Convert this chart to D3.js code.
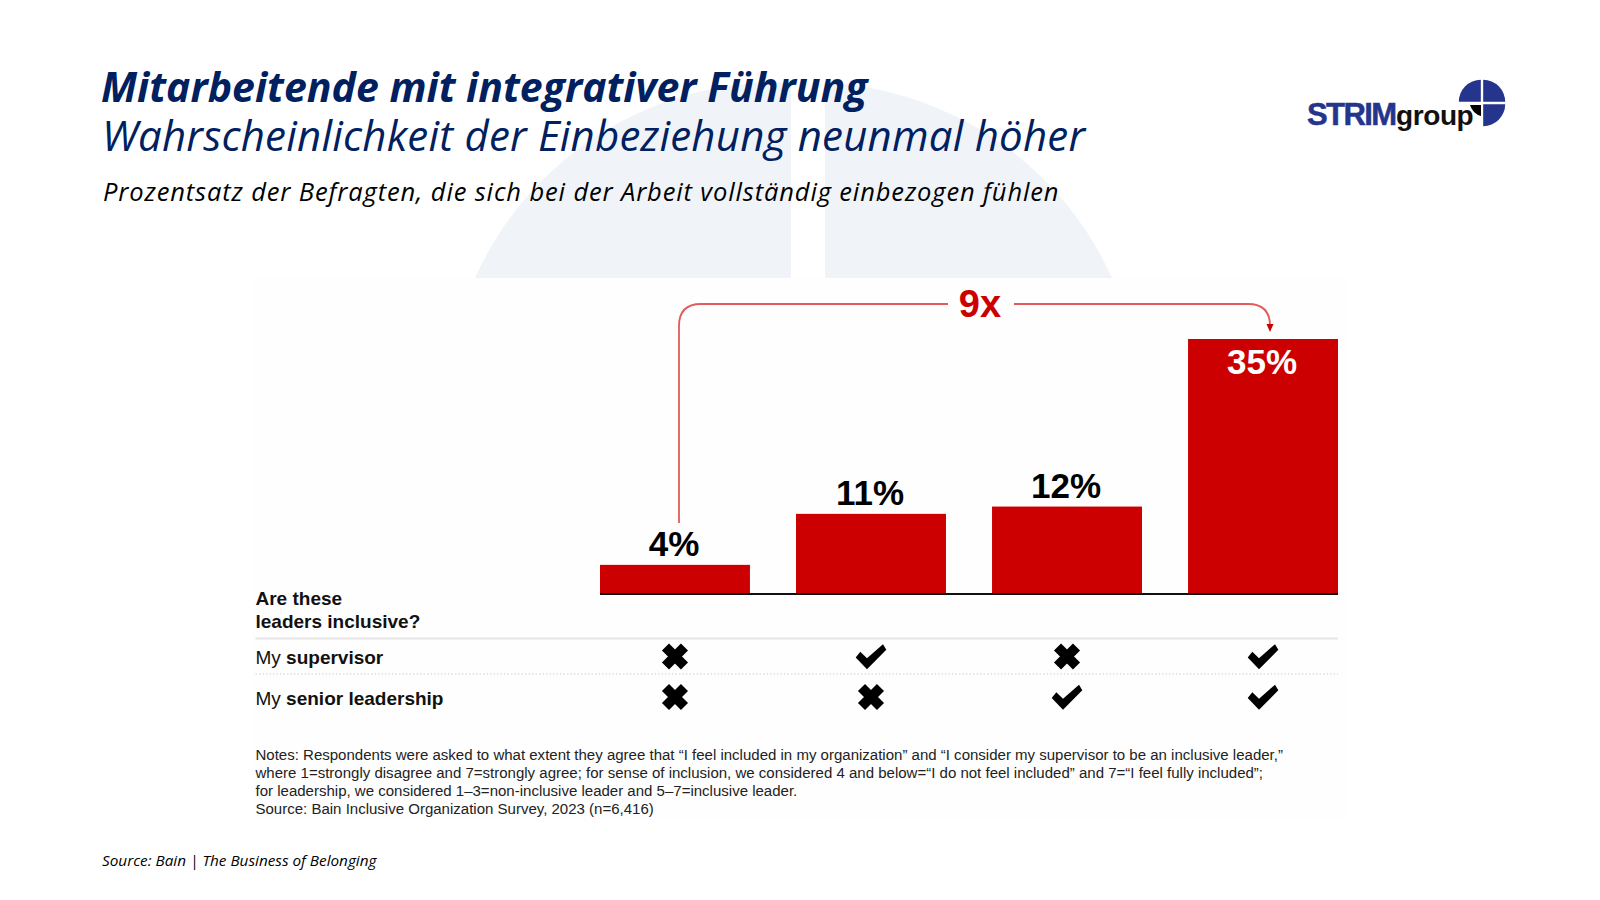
<!DOCTYPE html>
<html>
<head>
<meta charset="utf-8">
<script src="https://cdn.jsdelivr.net/npm/d3@7"></script>
<style>
	html, body { margin: 0; padding: 0; background: #fff; }
	svg { display: block; }
	.slide { font-family: "Open Sans", sans-serif; font-style: italic; }
	.chart { font-family: "Liberation Sans", Arial, sans-serif; }
</style>
</head>
<body>
<svg id="chart" width="1600" height="900"></svg>
<script>
'use strict';

//Chart data
var groups = ["neither", "supervisor", "senior", "both"];
var percentValues = [4, 11, 12, 35];
var supervisorInclusive = [false, true, false, true];
var seniorInclusive = [false, false, true, true];
var headerLines = ["Are these", "leaders inclusive?"];
var noteLines = [
	"Notes: Respondents were asked to what extent they agree that \u201CI feel included in my organization\u201D and \u201CI consider my supervisor to be an inclusive leader,\u201D",
	"where 1=strongly disagree and 7=strongly agree; for sense of inclusion, we considered 4 and below=\u201CI do not feel included\u201D and 7=\u201CI feel fully included\u201D;",
	"for leadership, we considered 1\u20133=non-inclusive leader and 5\u20137=inclusive leader.",
	"Source: Bain Inclusive Organization Survey, 2023 (n=6,416)"
];

var svg = d3.select("#chart");
var navy = "#002060";
var red = "#cc0000";
var logoBlue = "#25348c";

//Background watermark, two quarters of the logo circle cut at the top of the chart picture
var defs = svg.append("defs");
defs.append("clipPath").attr("id", "markLeft").append("rect")
	.attr("x", 0).attr("y", 0).attr("width", 791).attr("height", 278);
defs.append("clipPath").attr("id", "markRight").append("rect")
	.attr("x", 825).attr("y", 0).attr("width", 775).attr("height", 278);

svg.append("circle")
	.attr("clip-path", "url(#markLeft)")
	.attr("cx", 777).attr("cy", 413.5).attr("r", 331)
	.attr("fill", "#f0f4f9");
svg.append("circle")
	.attr("clip-path", "url(#markRight)")
	.attr("cx", 810).attr("cy", 413.5).attr("r", 331)
	.attr("fill", "#f0f4f9");

//Titles
var slide = svg.append("g").attr("class", "slide");
slide.append("text")
	.attr("x", 101).attr("y", 102)
	.attr("font-size", 41).attr("font-weight", 700).attr("fill", navy)
	.text("Mitarbeitende mit integrativer F\u00FChrung");
slide.append("text")
	.attr("x", 102).attr("y", 151)
	.attr("font-size", 42).attr("letter-spacing", 0.2).attr("fill", navy)
	.text("Wahrscheinlichkeit der Einbeziehung neunmal h\u00F6her");
slide.append("text")
	.attr("x", 103).attr("y", 201)
	.attr("font-size", 25.5).attr("letter-spacing", 0.87).attr("fill", "#000")
	.text("Prozentsatz der Befragten, die sich bei der Arbeit vollst\u00E4ndig einbezogen f\u00FChlen");
slide.append("text")
	.attr("x", 102).attr("y", 866)
	.attr("font-size", 15.3).attr("fill", "#000")
	.text("Source: Bain | The Business of Belonging");

//Logo
var logo = svg.append("g");
var logoArc = d3.arc().innerRadius(0).outerRadius(22);
[[0, Math.PI / 2, 1.2, -1.2], [Math.PI / 2, Math.PI, 1.2, 1.2], [-Math.PI / 2, 0, -1.2, -1.2]].forEach(function(q) {
	logo.append("path")
		.attr("transform", "translate(" + (1482 + q[2]) + "," + (103 + q[3]) + ")")
		.attr("d", logoArc({ startAngle: q[0], endAngle: q[1] }))
		.attr("fill", logoBlue);
});
logo.append("path")
	.attr("transform", "translate(1482,103)")
	.attr("d", "M-12,2 L-1,2 L-1,13 Q-9,11 -12,2 Z")
	.attr("fill", "#000");
logo.append("text")
	.attr("class", "chart")
	.attr("x", 1307).attr("y", 125)
	.attr("font-size", 31).attr("font-weight", 700).attr("fill", logoBlue)
	.attr("stroke", logoBlue).attr("stroke-width", 0.5)
	.attr("letter-spacing", -1.6)
	.text("STRIM");
logo.append("text")
	.attr("class", "chart")
	.attr("x", 1396).attr("y", 125)
	.attr("font-size", 28).attr("font-weight", 700).attr("fill", "#111")
	.attr("letter-spacing", -0.4)
	.text("group");

//Chart picture
var chart = svg.append("g").attr("class", "chart");
chart.append("rect")
	.attr("x", 252).attr("y", 278).attr("width", 1096).attr("height", 542)
	.attr("fill", "#fefefe");

var x = d3.scaleBand()
	.domain(groups)
	.range([600, 1338])
	.paddingInner(0.235)
	.paddingOuter(0);

var y = d3.scaleLinear()
	.domain([0, 35])
	.range([594, 339]);

chart.selectAll(".bar")
	.data(percentValues)
	.enter().append("rect")
	.attr("class", "bar")
	.attr("x", function(d, i) { return x(groups[i]); })
	.attr("y", function(d) { return y(d); })
	.attr("width", x.bandwidth())
	.attr("height", function(d) { return y(0) - y(d); })
	.attr("fill", red);

chart.append("line")
	.attr("x1", x.range()[0]).attr("x2", x.range()[1])
	.attr("y1", y(0)).attr("y2", y(0))
	.attr("stroke", "#111").attr("stroke-width", 2);

//Value labels, the tall bar keeps its label inside
chart.selectAll(".value")
	.data(percentValues)
	.enter().append("text")
	.attr("class", "value")
	.attr("x", function(d, i) { return x(groups[i]) + x.bandwidth() / 2 - 1; })
	.attr("y", function(d) { return d > 30 ? y(d) + 35 : y(d) - 9; })
	.attr("text-anchor", "middle")
	.attr("font-size", 35)
	.attr("font-weight", 700)
	.attr("fill", function(d) { return d > 30 ? "#fff" : "#000"; })
	.text(function(d) { return d + "%"; });

//9x connector
var connectorLeft = x(groups[0]) + 79;
var connectorRight = x(groups[3]) + x.bandwidth() / 2 + 7;
var connectorY = 304;
var connectorR = 22;
var connector = d3.path();
connector.moveTo(connectorLeft, 523);
connector.lineTo(connectorLeft, connectorY + connectorR);
connector.quadraticCurveTo(connectorLeft, connectorY, connectorLeft + connectorR, connectorY);
connector.lineTo(948, connectorY);
connector.moveTo(1014, connectorY);
connector.lineTo(connectorRight - connectorR, connectorY);
connector.quadraticCurveTo(connectorRight, connectorY, connectorRight, connectorY + connectorR);
chart.append("path")
	.attr("d", connector.toString())
	.attr("fill", "none")
	.attr("stroke", "#e25b5b")
	.attr("stroke-width", 1.8);
chart.append("path")
	.attr("transform", "translate(" + connectorRight + "," + (connectorY + connectorR - 2) + ")")
	.attr("d", "M-3.5,0 L3.5,0 L0,8 Z")
	.attr("fill", red);
chart.append("text")
	.attr("x", 980).attr("y", 317)
	.attr("text-anchor", "middle")
	.attr("font-size", 38).attr("font-weight", 700).attr("fill", red)
	.text("9x");

//Table with the crosses and checks
chart.selectAll(".header")
	.data(headerLines)
	.enter().append("text")
	.attr("class", "header")
	.attr("x", 255.5)
	.attr("y", function(d, i) { return 605 + i * 22.5; })
	.attr("font-size", 19).attr("font-weight", 700).attr("fill", "#111")
	.text(function(d) { return d; });

chart.append("line")
	.attr("x1", 255.5).attr("x2", 1338).attr("y1", 638.5).attr("y2", 638.5)
	.attr("stroke", "#e6e6e6").attr("stroke-width", 2);
chart.append("line")
	.attr("x1", 255.5).attr("x2", 1338).attr("y1", 674).attr("y2", 674)
	.attr("stroke", "#e0e0e0").attr("stroke-width", 1.5).attr("stroke-dasharray", "1.5 2");

var crossShape = "M-9.5,-9.5L9.5,9.5M-9.5,9.5L9.5,-9.5";
var checkShape = "M-15.3,1L-10.7,-4.7L-4,1.7L12,-12.3L15.3,-6.7L-4,12.7Z";

var rows = [
	{ label: "supervisor", values: supervisorInclusive, labelY: 664, markY: 656.5 },
	{ label: "senior leadership", values: seniorInclusive, labelY: 705, markY: 697 }
];

rows.forEach(function(row) {
	var rowLabel = chart.append("text")
		.attr("x", 255.5).attr("y", row.labelY)
		.attr("font-size", 19).attr("fill", "#111");
	rowLabel.append("tspan").text("My ");
	rowLabel.append("tspan").attr("font-weight", 700).text(row.label);

	chart.selectAll(null)
		.data(row.values)
		.enter().append("path")
		.attr("transform", function(d, i) { return "translate(" + (x(groups[i]) + x.bandwidth() / 2) + "," + row.markY + ")"; })
		.attr("d", function(d) { return d ? checkShape : crossShape; })
		.attr("fill", "#000")
		.attr("stroke", function(d) { return d ? "none" : "#000"; })
		.attr("stroke-width", 10);
});

//Notes
chart.selectAll(".note")
	.data(noteLines)
	.enter().append("text")
	.attr("class", "note")
	.attr("x", 255.5)
	.attr("y", function(d, i) { return 759.5 + i * 18; })
	.attr("font-size", 15.03)
	.attr("fill", "#222")
	.text(function(d) { return d; });
</script>
</body>
</html>
